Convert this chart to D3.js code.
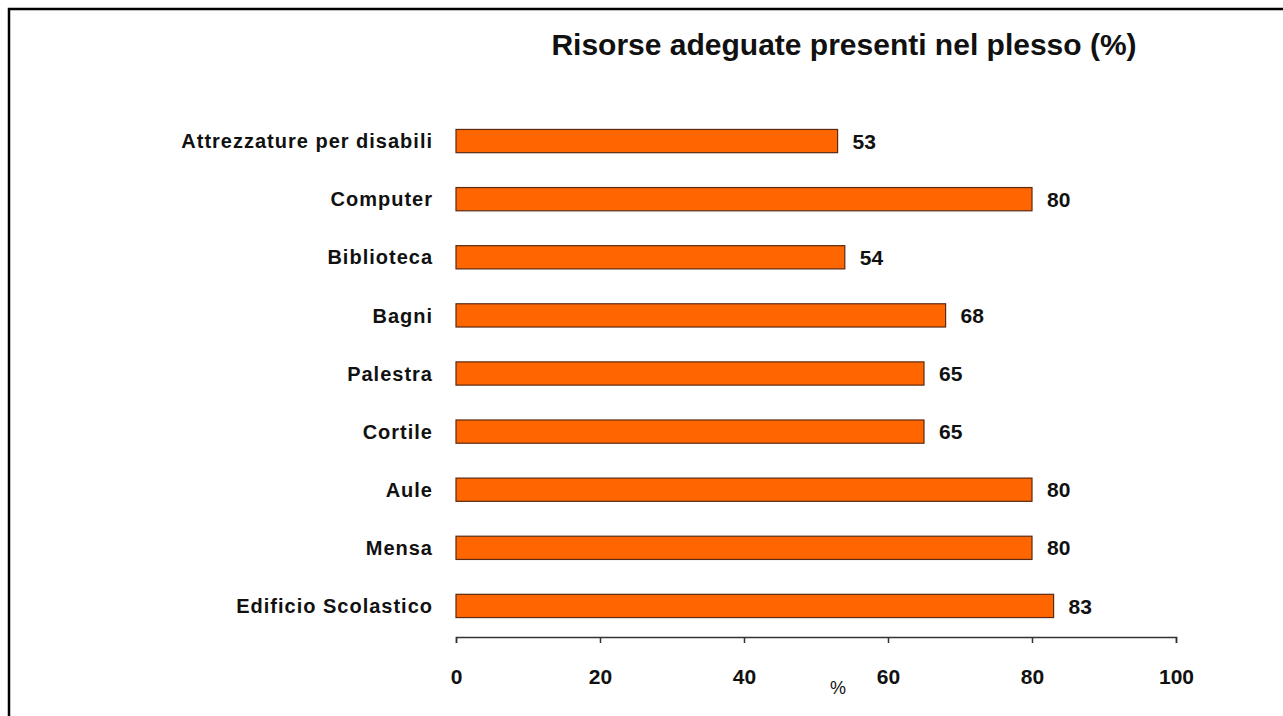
<!DOCTYPE html>
<html>
<head>
<meta charset="utf-8">
<script src="https://cdn.jsdelivr.net/npm/d3@7"></script>
<style>
  body { margin: 0; background: #fff; }
  text { font-family: "Liberation Sans", Arial, sans-serif; font-weight: bold; fill: #111; }
</style>
</head>
<body>
<div id="chart"></div>
<script>
// data
let categories = ["Attrezzature per disabili", "Computer", "Biblioteca", "Bagni", "Palestra",
                  "Cortile", "Aule", "Mensa", "Edificio Scolastico"];
let values = [53, 80, 54, 68, 65, 65, 80, 80, 83];
let tickValues = [0, 20, 40, 60, 80, 100];

let svg = d3.select("#chart")
    .append("svg")
    .attr("width", 1283)
    .attr("height", 716);

// frame
svg.append("rect")
    .attr("x", 9)
    .attr("y", 9)
    .attr("width", 1300)
    .attr("height", 760)
    .attr("fill", "white")
    .style("stroke", "black")
    .style("stroke-width", 2.5);

let x = d3.scaleLinear().domain([0, 100]).range([456, 1176]);
let y = d3.scaleBand().domain(categories).range([112, 635])
    .paddingInner(0.6).paddingOuter(0.3);

svg.append("text")
    .attr("x", 844)
    .attr("y", 55)
    .attr("text-anchor", "middle")
    .style("font-size", "30px")
    .text("Risorse adeguate presenti nel plesso (%)");

let rows = categories.map((c, i) => ({ name: c, value: values[i] }));

svg.selectAll(".bar")
    .data(rows)
    .enter().append("rect")
    .attr("class", "bar")
    .attr("x", x(0))
    .attr("y", d => y(d.name))
    .attr("width", d => x(d.value) - x(0))
    .attr("height", y.bandwidth())
    .attr("fill", "#ff6600")
    .style("stroke", "#5a2a12")
    .style("stroke-width", 1.2);

svg.selectAll(".val")
    .data(rows)
    .enter().append("text")
    .attr("class", "val")
    .attr("x", d => x(d.value) + 15)
    .attr("y", d => y(d.name) + y.bandwidth() / 2)
    .attr("dy", "0.36em")
    .style("font-size", "21px")
    .text(d => d.value);

svg.selectAll(".cat")
    .data(rows)
    .enter().append("text")
    .attr("class", "cat")
    .attr("x", 433)
    .attr("y", d => y(d.name) + y.bandwidth() / 2)
    .attr("dy", "0.36em")
    .attr("text-anchor", "end")
    .style("font-size", "20px")
    .style("letter-spacing", "1px")
    .text(d => d.name);

let axis = svg.append("g")
    .attr("transform", "translate(0,637)")
    .call(d3.axisBottom(x).tickValues(tickValues).tickSize(6).tickSizeOuter(6).tickPadding(26));
axis.select(".domain").attr("stroke", "#333").attr("stroke-width", 1.5);
axis.selectAll(".tick line").attr("stroke", "#333").attr("stroke-width", 1.5);
axis.selectAll(".tick text")
    .style("font-size", "21px")
    .style("font-family", "'Liberation Sans', Arial, sans-serif")
    .style("font-weight", "bold")
    .attr("fill", "#111");

svg.append("text")
    .attr("x", 838)
    .attr("y", 694)
    .attr("text-anchor", "middle")
    .style("font-size", "18px")
    .style("font-weight", "normal")
    .text("%");
</script>
</body>
</html>
